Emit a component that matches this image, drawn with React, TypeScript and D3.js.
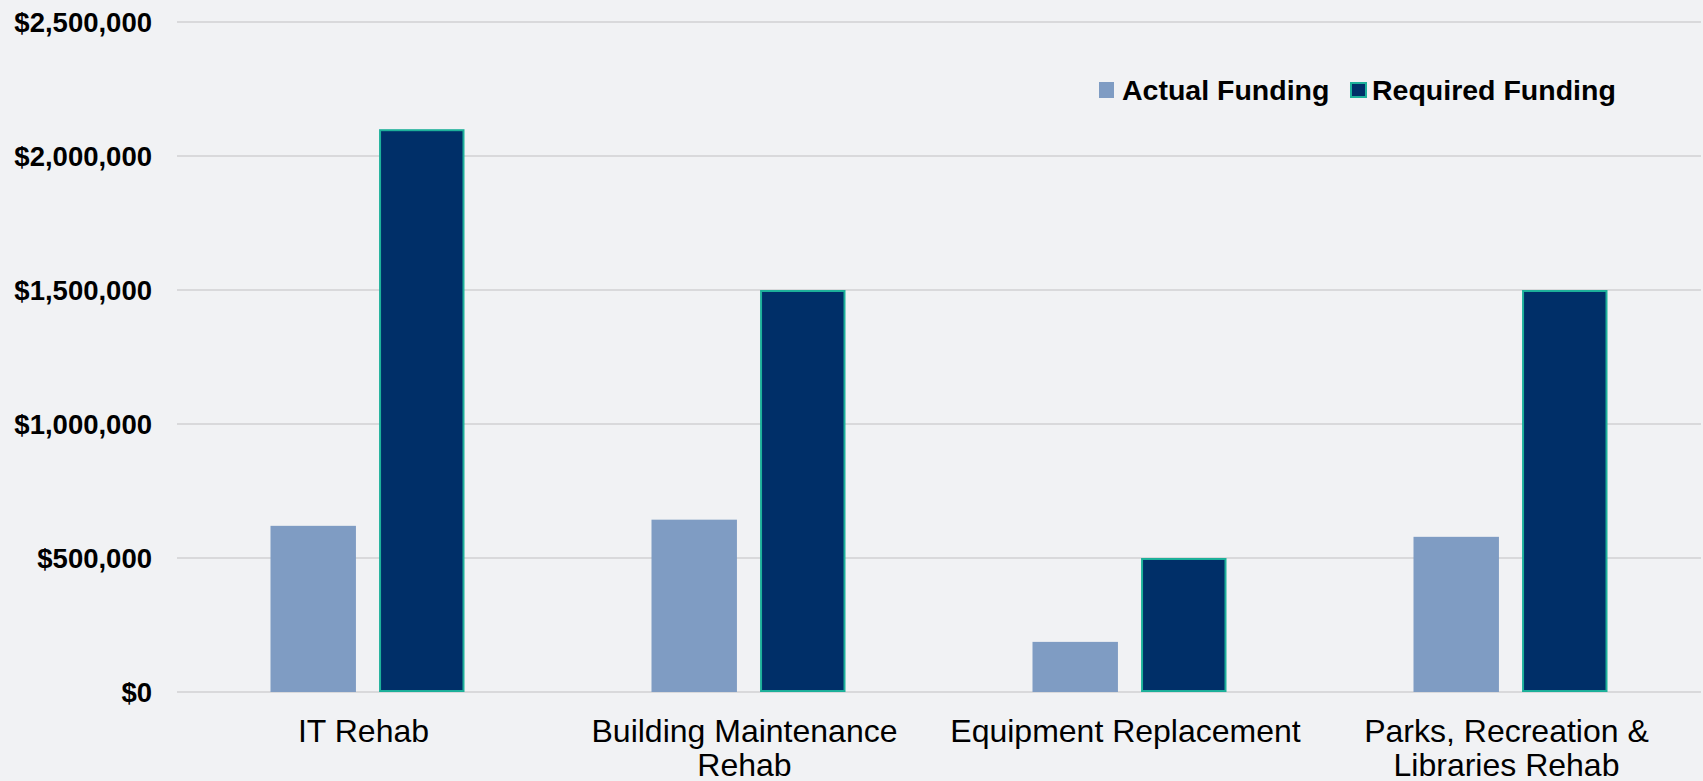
import React from "react";
import * as d3 from "d3";

// Funding by program category
const categories: string[][] = [
  ["IT Rehab"],
  ["Building Maintenance", "Rehab"],
  ["Equipment Replacement"],
  ["Parks, Recreation &", "Libraries Rehab"],
];
const seriesNames = ["Actual Funding", "Required Funding"];
const actualFunding = [620000, 643000, 187000, 579000];
const requiredFunding = [2100000, 1500000, 500000, 1500000];
const yTicks = [0, 500000, 1000000, 1500000, 2000000, 2500000];

const W = 1703;
const H = 781;
const BG = "#F1F2F4";
const LIGHT = "#7F9CC3";
const DARK = "#002F68";
const TEAL = "#1DB09A";
const FONT = "'Liberation Sans', Arial, sans-serif";

export default function App() {
  const keys = categories.map((c) => c.join(" "));
  const x0 = d3.scaleBand<string>().domain(keys).range([177, 1701]).padding(0);
  const x1 = d3
    .scaleBand<string>()
    .domain(seriesNames)
    .range([-97, 97])
    .paddingInner(0.213)
    .paddingOuter(0);
  const y = d3.scaleLinear().domain([0, 2500000]).range([692, 22]);
  const fmt = (v: number) => "$" + d3.format(",")(v);
  const series = [actualFunding, requiredFunding];
  const legendX = [1099, 1350];

  return (
    <div style={{ position: "fixed", left: 0, top: 0, width: W, height: H, background: BG }}>
      <svg width={W} height={H} style={{ display: "block", fontFamily: FONT }}>
        <rect x={0} y={0} width={W} height={H} fill={BG} />
        {/* grid and y labels */}
        {yTicks.map((t) => (
          <g key={t}>
            <line x1={177} x2={1701} y1={y(t)} y2={y(t)} stroke="#D9D9DB" strokeWidth={2} />
            <text
              x={152}
              y={y(t)}
              dy="0.35em"
              textAnchor="end"
              fontSize={27.5}
              fontWeight="bold"
              fill="#000"
            >
              {fmt(t)}
            </text>
          </g>
        ))}
        {/* bars */}
        {keys.map((k, i) => {
          const cx = (x0(k) as number) + x0.bandwidth() / 2;
          return (
            <g key={k}>
              {seriesNames.map((s, j) => {
                const v = series[j][i];
                const bx = cx + (x1(s) as number);
                const top = y(v);
                if (j === 0) {
                  return (
                    <rect key={s} x={bx} y={top} width={x1.bandwidth()} height={y(0) - top} fill={LIGHT} />
                  );
                }
                return (
                  <rect
                    key={s}
                    x={bx + 1}
                    y={top + 1}
                    width={x1.bandwidth() - 2}
                    height={y(0) - top - 2}
                    fill={DARK}
                    stroke={TEAL}
                    strokeWidth={2}
                  />
                );
              })}
              <text textAnchor="middle" fontSize={32} fill="#000">
                {categories[i].map((line, li) => (
                  <tspan key={li} x={cx - 4} y={741.5 + li * 34}>
                    {line}
                  </tspan>
                ))}
              </text>
            </g>
          );
        })}
        {/* legend */}
        {seriesNames.map((s, j) => (
          <g key={s} transform={`translate(${legendX[j]},0)`}>
            {j === 0 ? (
              <rect x={0} y={82} width={15} height={16} fill={LIGHT} />
            ) : (
              <rect x={1} y={83} width={15} height={14} fill={DARK} stroke={TEAL} strokeWidth={2} />
            )}
            <text x={j === 0 ? 23 : 22} y={99.5} fontSize={28.5} fontWeight="bold" fill="#000">
              {s}
            </text>
          </g>
        ))}
      </svg>
    </div>
  );
}
